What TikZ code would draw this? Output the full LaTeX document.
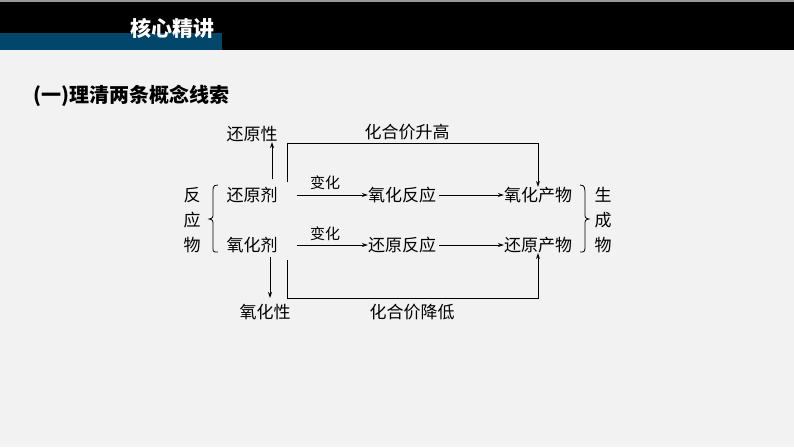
\documentclass[tikz,border=0pt]{standalone}
\usepackage{fontspec}
\newfontfamily\cjk{Noto Sans CJK SC}
\usetikzlibrary{arrows.meta}
\begin{document}
\begin{tikzpicture}[x=1pt,y=-1pt,
  lab/.style={font=\cjk\fontsize{17}{17}\selectfont,inner sep=0pt},
  ln/.style={line width=0.8pt},
  arr/.style={ln,-{Stealth[length=6pt,width=4pt]}}]
\fill[black!5] (0,0) rectangle (794,447);
\fill[black] (0,0) rectangle (794,50);
\fill[black!40] (0,0) rectangle (794,1.5);
\fill[teal!80!blue!70!black] (0,33) rectangle (222,50);
\node[lab,font=\cjk\bfseries\fontsize{21}{21}\selectfont,text=white] (hd) at (172,28) {核心精讲};
\node[lab,font=\cjk\bfseries\fontsize{20}{20}\selectfont,anchor=west] (tt) at (33,96) {(一)理清两条概念线索};

\node[lab] (hyx) at (252,134) {还原性};
\node[lab] (sg) at (407,132) {化合价升高};
\node[lab] (f1) at (192,195) {反};
\node[lab] (f2) at (192,220) {应};
\node[lab] (f3) at (192,245) {物};
\node[lab] (hyj) at (252,195) {还原剂};
\node[lab] (yhj) at (252,245) {氧化剂};
\node[lab,font=\cjk\fontsize{15}{15}\selectfont] (bh1) at (325,183) {变化};
\node[lab,font=\cjk\fontsize{15}{15}\selectfont] (bh2) at (325,234) {变化};
\node[lab] (yhfy) at (402,195) {氧化反应};
\node[lab] (hyfy) at (402,245) {还原反应};
\node[lab] (yhcw) at (538,195) {氧化产物};
\node[lab] (hycw) at (538,245) {还原产物};
\node[lab] (s1) at (603,195) {生};
\node[lab] (s2) at (603,220) {成};
\node[lab] (s3) at (603,245) {物};
\node[lab] (yhx) at (265,312) {氧化性};
\node[lab] (jd) at (412,312) {化合价降低};

\draw[ln] (218,185) .. controls (212,185) and (213,188) .. (213,196) -- (213,213) .. controls (213,218) .. (209,219)
  .. controls (213,220) .. (213,225) -- (213,244) .. controls (213,252) and (212,252) .. (218,252);
\draw[ln] (580,185) .. controls (585,185) and (585,188) .. (585,196) -- (585,213) .. controls (585,218) .. (589,219)
  .. controls (585,220) .. (585,225) -- (585,244) .. controls (585,252) and (585,252) .. (580,252);

\coordinate (a1) at (272,179);
\draw[arr] (a1) -- (hyx.south -| a1);
\coordinate (a2) at (270,257);
\draw[arr] (a2) -- (270,298);
\draw[arr] (287,182) -- (287,143) -- (538,143) -- (yhcw.north);
\draw[arr] (287,260) -- (287,298) -- (538,298) -- (hycw.south);
\draw[arr] (297,195) -- (yhfy.west);
\draw[arr] (297,245) -- (hyfy.west);
\draw[arr] (yhfy.east) ++(3,0) -- (yhcw.west);
\draw[arr] (hyfy.east) ++(3,0) -- (hycw.west);
\end{tikzpicture}
\end{document}
